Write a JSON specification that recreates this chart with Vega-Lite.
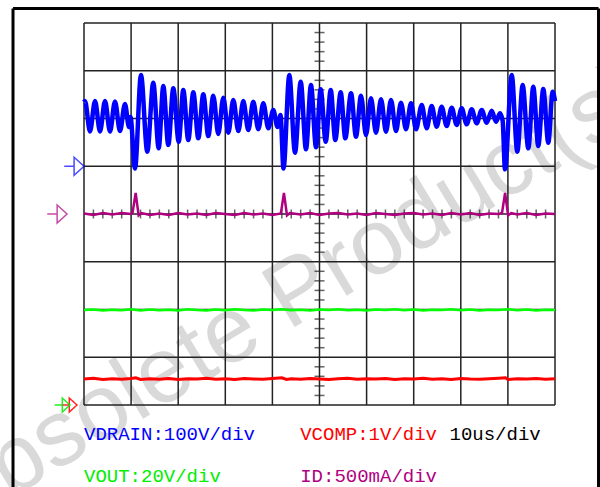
{
  "$schema": "https://vega.github.io/schema/vega-lite/v6.json",
  "width": 600,
  "height": 487,
  "padding": 0,
  "autosize": "none",
  "background": "white",
  "config": {"view": {"stroke": null}},
  "datasets": {
    "watermark": [{"t": 46.16, "v": -2.285, "label": "Obsolete Product(s)"}],
    "grid": [
      {"t": 0, "t2": 0, "v": -4, "v2": 4}, {"t": 10, "t2": 10, "v": -4, "v2": 4}, {"t": 20, "t2": 20, "v": -4, "v2": 4},
      {"t": 30, "t2": 30, "v": -4, "v2": 4}, {"t": 40, "t2": 40, "v": -4, "v2": 4}, {"t": 50, "t2": 50, "v": -4, "v2": 4},
      {"t": 60, "t2": 60, "v": -4, "v2": 4}, {"t": 70, "t2": 70, "v": -4, "v2": 4}, {"t": 80, "t2": 80, "v": -4, "v2": 4},
      {"t": 90, "t2": 90, "v": -4, "v2": 4}, {"t": 100, "t2": 100, "v": -4, "v2": 4},
      {"t": 0, "t2": 100, "v": -4, "v2": -4}, {"t": 0, "t2": 100, "v": -3, "v2": -3}, {"t": 0, "t2": 100, "v": -2, "v2": -2},
      {"t": 0, "t2": 100, "v": -1, "v2": -1}, {"t": 0, "t2": 100, "v": 0, "v2": 0}, {"t": 0, "t2": 100, "v": 1, "v2": 1},
      {"t": 0, "t2": 100, "v": 2, "v2": 2}, {"t": 0, "t2": 100, "v": 3, "v2": 3}, {"t": 0, "t2": 100, "v": 4, "v2": 4}
    ],
    "ticksH": [
      {"t": 2, "v": 0}, {"t": 4, "v": 0}, {"t": 6, "v": 0}, {"t": 8, "v": 0}, {"t": 12, "v": 0}, {"t": 14, "v": 0}, {"t": 16, "v": 0}, {"t": 18, "v": 0},
      {"t": 22, "v": 0}, {"t": 24, "v": 0}, {"t": 26, "v": 0}, {"t": 28, "v": 0}, {"t": 32, "v": 0}, {"t": 34, "v": 0}, {"t": 36, "v": 0}, {"t": 38, "v": 0},
      {"t": 42, "v": 0}, {"t": 44, "v": 0}, {"t": 46, "v": 0}, {"t": 48, "v": 0}, {"t": 52, "v": 0}, {"t": 54, "v": 0}, {"t": 56, "v": 0}, {"t": 58, "v": 0},
      {"t": 62, "v": 0}, {"t": 64, "v": 0}, {"t": 66, "v": 0}, {"t": 68, "v": 0}, {"t": 72, "v": 0}, {"t": 74, "v": 0}, {"t": 76, "v": 0}, {"t": 78, "v": 0},
      {"t": 82, "v": 0}, {"t": 84, "v": 0}, {"t": 86, "v": 0}, {"t": 88, "v": 0}, {"t": 92, "v": 0}, {"t": 94, "v": 0}, {"t": 96, "v": 0}, {"t": 98, "v": 0}
    ],
    "ticksV": [
      {"t": 50, "v": -3.8}, {"t": 50, "v": -3.6}, {"t": 50, "v": -3.4}, {"t": 50, "v": -3.2}, {"t": 50, "v": -2.8}, {"t": 50, "v": -2.6}, {"t": 50, "v": -2.4}, {"t": 50, "v": -2.2},
      {"t": 50, "v": -1.8}, {"t": 50, "v": -1.6}, {"t": 50, "v": -1.4}, {"t": 50, "v": -1.2}, {"t": 50, "v": -0.8}, {"t": 50, "v": -0.6}, {"t": 50, "v": -0.4}, {"t": 50, "v": -0.2},
      {"t": 50, "v": 0.2}, {"t": 50, "v": 0.4}, {"t": 50, "v": 0.6}, {"t": 50, "v": 0.8}, {"t": 50, "v": 1.2}, {"t": 50, "v": 1.4}, {"t": 50, "v": 1.6}, {"t": 50, "v": 1.8},
      {"t": 50, "v": 2.2}, {"t": 50, "v": 2.4}, {"t": 50, "v": 2.6}, {"t": 50, "v": 2.8}, {"t": 50, "v": 3.2}, {"t": 50, "v": 3.4}, {"t": 50, "v": 3.6}, {"t": 50, "v": 3.8}
    ],
    "vout": [
      {"t": 0, "v": -2.01}, {"t": 2, "v": -2.0}, {"t": 4, "v": -2.02}, {"t": 6, "v": -2.005}, {"t": 8, "v": -2.015}, {"t": 10, "v": -1.995},
      {"t": 12, "v": -2.02}, {"t": 14, "v": -2.0}, {"t": 16, "v": -2.015}, {"t": 18, "v": -2.005}, {"t": 20, "v": -2.02}, {"t": 22, "v": -1.995},
      {"t": 24, "v": -2.01}, {"t": 26, "v": -2.02}, {"t": 28, "v": -2.0}, {"t": 30, "v": -2.015}, {"t": 32, "v": -1.995}, {"t": 34, "v": -2.01},
      {"t": 36, "v": -2.02}, {"t": 38, "v": -2.0}, {"t": 40, "v": -2.01}, {"t": 42, "v": -1.995}, {"t": 44, "v": -2.015}, {"t": 46, "v": -2.005},
      {"t": 48, "v": -2.02}, {"t": 50, "v": -2.0}, {"t": 52, "v": -2.01}, {"t": 54, "v": -1.995}, {"t": 56, "v": -2.015}, {"t": 58, "v": -2.005},
      {"t": 60, "v": -2.02}, {"t": 62, "v": -2.0}, {"t": 64, "v": -2.01}, {"t": 66, "v": -1.995}, {"t": 68, "v": -2.015}, {"t": 70, "v": -2.0},
      {"t": 72, "v": -2.02}, {"t": 74, "v": -2.005}, {"t": 76, "v": -2.01}, {"t": 78, "v": -1.995}, {"t": 80, "v": -2.015}, {"t": 82, "v": -2.0},
      {"t": 84, "v": -2.02}, {"t": 86, "v": -2.005}, {"t": 88, "v": -2.01}, {"t": 90, "v": -1.995}, {"t": 92, "v": -2.015}, {"t": 94, "v": -2.0},
      {"t": 96, "v": -2.02}, {"t": 98, "v": -2.005}, {"t": 100, "v": -2.01}
    ],
    "vcomp": [
      {"t": 0, "v": -3.455}, {"t": 2, "v": -3.44}, {"t": 4, "v": -3.465}, {"t": 6, "v": -3.45}, {"t": 8, "v": -3.46}, {"t": 10, "v": -3.445},
      {"t": 11, "v": -3.43}, {"t": 12, "v": -3.465}, {"t": 14, "v": -3.45}, {"t": 16, "v": -3.46}, {"t": 18, "v": -3.445}, {"t": 20, "v": -3.465},
      {"t": 22, "v": -3.45}, {"t": 24, "v": -3.455}, {"t": 26, "v": -3.44}, {"t": 28, "v": -3.46}, {"t": 30, "v": -3.45}, {"t": 32, "v": -3.465},
      {"t": 34, "v": -3.445}, {"t": 36, "v": -3.455}, {"t": 38, "v": -3.46}, {"t": 40, "v": -3.445}, {"t": 42, "v": -3.43}, {"t": 43, "v": -3.465},
      {"t": 44, "v": -3.45}, {"t": 46, "v": -3.46}, {"t": 48, "v": -3.445}, {"t": 50, "v": -3.455}, {"t": 52, "v": -3.465}, {"t": 54, "v": -3.45},
      {"t": 56, "v": -3.44}, {"t": 58, "v": -3.46}, {"t": 60, "v": -3.45}, {"t": 62, "v": -3.455}, {"t": 64, "v": -3.445}, {"t": 66, "v": -3.465},
      {"t": 68, "v": -3.45}, {"t": 70, "v": -3.455}, {"t": 72, "v": -3.44}, {"t": 74, "v": -3.46}, {"t": 76, "v": -3.45}, {"t": 78, "v": -3.465},
      {"t": 80, "v": -3.445}, {"t": 82, "v": -3.455}, {"t": 84, "v": -3.46}, {"t": 86, "v": -3.45}, {"t": 88, "v": -3.44}, {"t": 89.5, "v": -3.43},
      {"t": 90, "v": -3.465}, {"t": 92, "v": -3.45}, {"t": 94, "v": -3.455}, {"t": 96, "v": -3.445}, {"t": 98, "v": -3.46}, {"t": 100, "v": -3.45}
    ],
    "id": [
      {"t": 0, "v": 0.01}, {"t": 2, "v": -0.02}, {"t": 4, "v": 0.02}, {"t": 6, "v": -0.01}, {"t": 8, "v": 0.02}, {"t": 10, "v": 0.0},
      {"t": 10.3, "v": 0.02}, {"t": 10.97, "v": 0.44}, {"t": 11.6, "v": -0.03}, {"t": 12.2, "v": 0.02}, {"t": 14, "v": -0.02}, {"t": 16, "v": 0.01},
      {"t": 18, "v": -0.02}, {"t": 20, "v": 0.02}, {"t": 22, "v": -0.01}, {"t": 24, "v": 0.01}, {"t": 26, "v": -0.02}, {"t": 28, "v": 0.02},
      {"t": 30, "v": 0.0}, {"t": 32, "v": -0.02}, {"t": 34, "v": 0.02}, {"t": 36, "v": -0.01}, {"t": 38, "v": 0.01}, {"t": 40, "v": -0.02},
      {"t": 41.8, "v": 0.01}, {"t": 42.45, "v": 0.44}, {"t": 43.1, "v": -0.03}, {"t": 43.7, "v": 0.02}, {"t": 46, "v": -0.01}, {"t": 48, "v": 0.02},
      {"t": 50, "v": -0.02}, {"t": 52, "v": 0.01}, {"t": 54, "v": 0.02}, {"t": 56, "v": -0.01}, {"t": 58, "v": 0.01}, {"t": 60, "v": -0.02},
      {"t": 62, "v": 0.02}, {"t": 64, "v": 0.0}, {"t": 66, "v": -0.02}, {"t": 68, "v": 0.01}, {"t": 70, "v": 0.02}, {"t": 72, "v": -0.01},
      {"t": 74, "v": 0.01}, {"t": 76, "v": -0.02}, {"t": 78, "v": 0.02}, {"t": 80, "v": -0.01}, {"t": 82, "v": 0.02}, {"t": 84, "v": -0.02},
      {"t": 86, "v": 0.01}, {"t": 88, "v": 0.0}, {"t": 88.75, "v": 0.02}, {"t": 89.4, "v": 0.44}, {"t": 90.05, "v": -0.03}, {"t": 90.7, "v": 0.02},
      {"t": 92, "v": -0.01}, {"t": 94, "v": 0.02}, {"t": 96, "v": -0.02}, {"t": 98, "v": 0.01}, {"t": 100, "v": 0.0}
    ],
    "vdrain": [
      {"t": 0, "v": 2.345}, {"t": 0.21, "v": 2.366}, {"t": 1.27, "v": 1.728}, {"t": 2.34, "v": 2.366}, {"t": 3.4, "v": 1.728},
      {"t": 4.46, "v": 2.366}, {"t": 5.52, "v": 1.728}, {"t": 6.58, "v": 2.356}, {"t": 7.64, "v": 1.738}, {"t": 8.7, "v": 2.304},
      {"t": 9.55, "v": 1.822}, {"t": 9.87, "v": 2.031}, {"t": 10.83, "v": 0.953}, {"t": 12.1, "v": 2.911}, {"t": 13.44, "v": 1.305},
      {"t": 14.71, "v": 2.75}, {"t": 15.86, "v": 1.376}, {"t": 16.84, "v": 2.681}, {"t": 17.9, "v": 1.445}, {"t": 18.96, "v": 2.632},
      {"t": 20.11, "v": 1.514}, {"t": 21.08, "v": 2.597}, {"t": 22.14, "v": 1.55}, {"t": 23.21, "v": 2.549}, {"t": 24.27, "v": 1.585},
      {"t": 25.33, "v": 2.507}, {"t": 26.39, "v": 1.633}, {"t": 27.45, "v": 2.477}, {"t": 28.51, "v": 1.675}, {"t": 29.58, "v": 2.436},
      {"t": 30.64, "v": 1.703}, {"t": 31.7, "v": 2.387}, {"t": 32.76, "v": 1.738}, {"t": 33.82, "v": 2.366}, {"t": 34.88, "v": 1.759},
      {"t": 35.94, "v": 2.352}, {"t": 37.01, "v": 1.774}, {"t": 38.07, "v": 2.318}, {"t": 39.13, "v": 1.795}, {"t": 40.19, "v": 2.178},
      {"t": 41.08, "v": 1.822}, {"t": 41.72, "v": 2.073}, {"t": 42.36, "v": 0.953}, {"t": 43.59, "v": 2.911}, {"t": 44.8, "v": 1.284},
      {"t": 46.01, "v": 2.771}, {"t": 47.13, "v": 1.355}, {"t": 48.19, "v": 2.702}, {"t": 49.26, "v": 1.397}, {"t": 50.25, "v": 2.611},
      {"t": 51.32, "v": 1.514}, {"t": 52.38, "v": 2.597}, {"t": 53.35, "v": 1.55}, {"t": 54.5, "v": 2.549}, {"t": 55.48, "v": 1.585},
      {"t": 56.69, "v": 2.528}, {"t": 57.75, "v": 1.619}, {"t": 58.81, "v": 2.477}, {"t": 59.87, "v": 1.654}, {"t": 60.93, "v": 2.423},
      {"t": 61.99, "v": 1.703}, {"t": 63.06, "v": 2.402}, {"t": 64.12, "v": 1.724}, {"t": 65.18, "v": 2.387}, {"t": 66.24, "v": 1.738},
      {"t": 67.3, "v": 2.331}, {"t": 68.36, "v": 1.774}, {"t": 69.43, "v": 2.318}, {"t": 70.49, "v": 1.774}, {"t": 71.7, "v": 2.283},
      {"t": 72.76, "v": 1.795}, {"t": 73.82, "v": 2.262}, {"t": 74.88, "v": 1.828}, {"t": 75.94, "v": 2.247}, {"t": 77.0, "v": 1.843},
      {"t": 78.07, "v": 2.226}, {"t": 79.13, "v": 1.864}, {"t": 80.19, "v": 2.214}, {"t": 81.25, "v": 1.878}, {"t": 82.31, "v": 2.193},
      {"t": 83.37, "v": 1.899}, {"t": 84.44, "v": 2.178}, {"t": 85.5, "v": 1.912}, {"t": 86.56, "v": 2.163}, {"t": 87.47, "v": 1.933},
      {"t": 88.32, "v": 2.109}, {"t": 88.89, "v": 1.948}, {"t": 89.38, "v": 0.936}, {"t": 90.81, "v": 2.911}, {"t": 92.0, "v": 1.305},
      {"t": 93.14, "v": 2.702}, {"t": 94.33, "v": 1.376}, {"t": 95.39, "v": 2.666}, {"t": 96.45, "v": 1.424}, {"t": 97.51, "v": 2.618},
      {"t": 98.58, "v": 1.493}, {"t": 99.51, "v": 2.561}, {"t": 100, "v": 2.366}
    ],
    "labels": [
      {"t": 0.0, "v": -4.733, "label": "VDRAIN:100V/div", "s": "VDRAIN"},
      {"t": 45.9, "v": -4.733, "label": "VCOMP:1V/div", "s": "VCOMP"},
      {"t": 77.6, "v": -4.733, "label": "10us/div", "s": "TIME"},
      {"t": 0.0, "v": -5.613, "label": "VOUT:20V/div", "s": "VOUT"},
      {"t": 45.9, "v": -5.613, "label": "ID:500mA/div", "s": "ID"}
    ],
    "markersBig": [
      {"t": 0, "v": 1, "s": "VDRAIN"},
      {"t": -3.6, "v": 0, "s": "ID"}
    ],
    "markersSmall": [
      {"t": -1.49, "v": -4, "s": "VCOMP"},
      {"t": -2.97, "v": -4, "s": "VOUT"}
    ],
    "frame": [
      {"t": -15.07, "t2": -15.07, "v": -5.72, "v2": 4.304},
      {"t": -15.07, "t2": 109.24, "v": 4.304, "v2": 4.304},
      {"t": 109.24, "t2": 109.24, "v": -5.72, "v2": 4.304}
    ]
  },
  "encoding": {
    "x": {"field": "t", "type": "quantitative", "scale": {"domain": [-17.834, 109.554], "nice": false, "zero": false}, "axis": null},
    "y": {"field": "v", "type": "quantitative", "scale": {"domain": [-5.7173, 4.4817], "nice": false, "zero": false}, "axis": null}
  },
  "layer": [
    {
      "data": {"name": "watermark"},
      "mark": {"type": "text", "angle": 328.9, "fontSize": 93, "font": "Liberation Sans", "color": "#d9d9d9", "align": "center", "baseline": "alphabetic"},
      "encoding": {"text": {"field": "label"}}
    },
    {
      "data": {"name": "grid"},
      "mark": {"type": "rule", "color": "#222222", "strokeWidth": 1.5},
      "encoding": {"x2": {"field": "t2"}, "y2": {"field": "v2"}}
    },
    {
      "data": {"name": "ticksH"},
      "mark": {"type": "tick", "orient": "vertical", "size": 9, "thickness": 1.5, "color": "#222222"}
    },
    {
      "data": {"name": "ticksV"},
      "mark": {"type": "tick", "orient": "horizontal", "size": 10, "thickness": 1.5, "color": "#222222"}
    },
    {
      "data": {"name": "vout"},
      "mark": {"type": "line", "color": "#00ff00", "strokeWidth": 2.5}
    },
    {
      "data": {"name": "vcomp"},
      "mark": {"type": "line", "color": "#ff0000", "strokeWidth": 3}
    },
    {
      "data": {"name": "id"},
      "mark": {"type": "line", "color": "#b0007f", "strokeWidth": 2.5}
    },
    {
      "data": {"name": "vdrain"},
      "mark": {"type": "line", "color": "#0000ff", "strokeWidth": 4.5, "interpolate": "monotone"}
    },
    {
      "data": {"name": "labels"},
      "mark": {"type": "text", "font": "Liberation Mono", "fontSize": 19, "align": "left", "baseline": "alphabetic"},
      "encoding": {
        "text": {"field": "label"},
        "color": {"field": "s", "type": "nominal", "legend": null,
          "scale": {"domain": ["VDRAIN", "VCOMP", "TIME", "VOUT", "ID"], "range": ["#0000ff", "#ff0000", "#000000", "#00ee00", "#b0007f"]}}
      }
    },
    {
      "data": {"name": "markersBig"},
      "mark": {"type": "point", "shape": "M-2.2,0H-1.1M-1.1,-1L0,0L-1.1,1Z", "size": 324, "filled": false, "strokeWidth": 1.5, "opacity": 0.7},
      "encoding": {
        "color": {"field": "s", "type": "nominal", "legend": null,
          "scale": {"domain": ["VDRAIN", "VCOMP", "TIME", "VOUT", "ID"], "range": ["#0000ff", "#ff0000", "#000000", "#00ee00", "#b0007f"]}}
      }
    },
    {
      "data": {"name": "markersSmall"},
      "mark": {"type": "point", "shape": "M-2.2,0H-1.1M-1.1,-1L0,0L-1.1,1Z", "size": 196, "filled": false, "strokeWidth": 1.5, "opacity": 0.85},
      "encoding": {
        "color": {"field": "s", "type": "nominal", "legend": null,
          "scale": {"domain": ["VDRAIN", "VCOMP", "TIME", "VOUT", "ID"], "range": ["#0000ff", "#ff0000", "#000000", "#00ee00", "#b0007f"]}}
      }
    },
    {
      "data": {"name": "frame"},
      "mark": {"type": "rule", "color": "#000000", "strokeWidth": 3},
      "encoding": {"x2": {"field": "t2"}, "y2": {"field": "v2"}}
    }
  ]
}
